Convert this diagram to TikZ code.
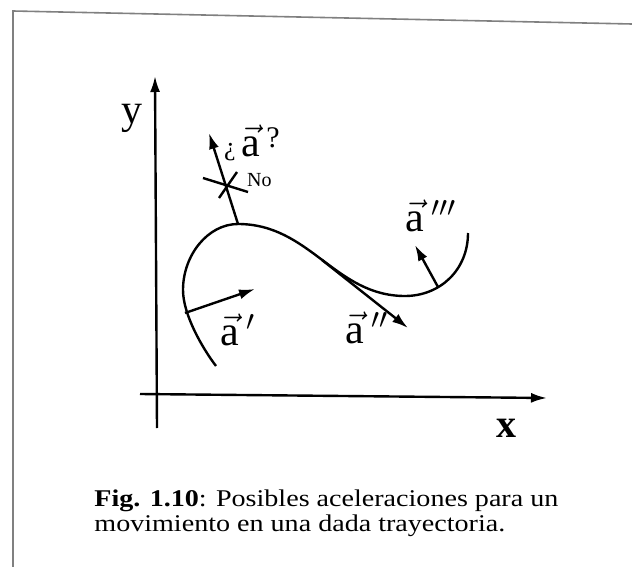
\documentclass[tikz,border=0pt]{standalone}
\usepackage{fontspec}
\setmainfont{Liberation Serif}
\usetikzlibrary{arrows.meta}
\begin{document}
\begin{tikzpicture}[x=0.5pt,y=-0.5pt, line width=1.2pt,
  vec/.style={-{Latex[length=8pt,width=5pt]}},
  lbl/.style={font=\fontsize{21}{24}\selectfont, inner sep=0pt},
  smalltxt/.style={font=\fontsize{10}{11}\selectfont, inner sep=0pt},
  captext/.style={font=\fontsize{12}{14}\selectfont, inner sep=0pt, anchor=base west, xscale=1.17},
  frameline/.style={draw=gray, line width=0.8pt}]
\useasboundingbox (0,0) rectangle (632,567);
% frame
\coordinate (f1) at (13,11);
\coordinate (f2) at (632,24);
\coordinate (f3) at (13,567);
\draw[frameline] (f3) -- (f1) -- (f2);
% axes
\coordinate (ybot) at (157,428);
\coordinate (ytop) at (155,76);
\coordinate (xl) at (140,394);
\coordinate (xr) at (547,398);
\draw[vec] (ybot) -- (ytop);
\draw[vec] (xl) -- (xr);
\node[lbl] (ylab) at (132,118) {y};
\node[lbl, font=\bfseries\fontsize{20}{24}\selectfont] (xlab) at (506,428) {x};
% trajectory
\coordinate (S) at (216,366);
\coordinate (L) at (183,290);
\coordinate (P) at (238,224);
\coordinate (M) at (405,296);
\coordinate (E) at (468,233);
\draw (S) .. controls (203,349) and (183,315) .. (L)
          .. controls (183,255) and (208,224) .. (P)
          .. controls (310,224) and (335,296) .. (M)
          .. controls (440,296) and (468,270) .. (E);
% accelerations
\coordinate (q0) at (238,224);
\coordinate (q1) at (209,133);
\draw[vec] (q0) -- (q1);
\coordinate (a1s) at (185,313);
\coordinate (a1e) at (255,289);
\draw[vec] (a1s) -- (a1e);
\coordinate (a2s) at (322,260);
\coordinate (a2e) at (408,328);
\draw[vec] (a2s) -- (a2e);
\coordinate (a3s) at (438,287);
\coordinate (a3e) at (415,245);
\draw[vec] (a3s) -- (a3e);
% cross
\coordinate (x1) at (203,178);
\coordinate (x2) at (248,192);
\coordinate (x3) at (219,198);
\coordinate (x4) at (237,172);
\draw (x1) -- (x2);
\draw (x3) -- (x4);
% labels
\node[font=\fontsize{13}{14}\selectfont, inner sep=0pt] (inv) at (230,152) {¿};
\node[lbl] (aq) at (251,141) {$\vec{\mbox{a}}$};
\node[font=\fontsize{15}{16}\selectfont, inner sep=0pt] (qm) at (273,138) {?};
\node[smalltxt, anchor=west] (no) at (246,180) {No};
\node[lbl] (a1) at (238,330) {$\vec{\mbox{a}}\,'$};
\node[lbl] (a2) at (367,328) {$\vec{\mbox{a}}\,''$};
\node[lbl] (a3) at (431,216) {$\vec{\mbox{a}}\,'''$};
% caption
\node[captext] (c1) at (93,506) {\textbf{Fig. 1.10}: Posibles aceleraciones para un};
\node[captext] (c2) at (93,531) {movimiento en una dada trayectoria.};
\end{tikzpicture}
\end{document}
